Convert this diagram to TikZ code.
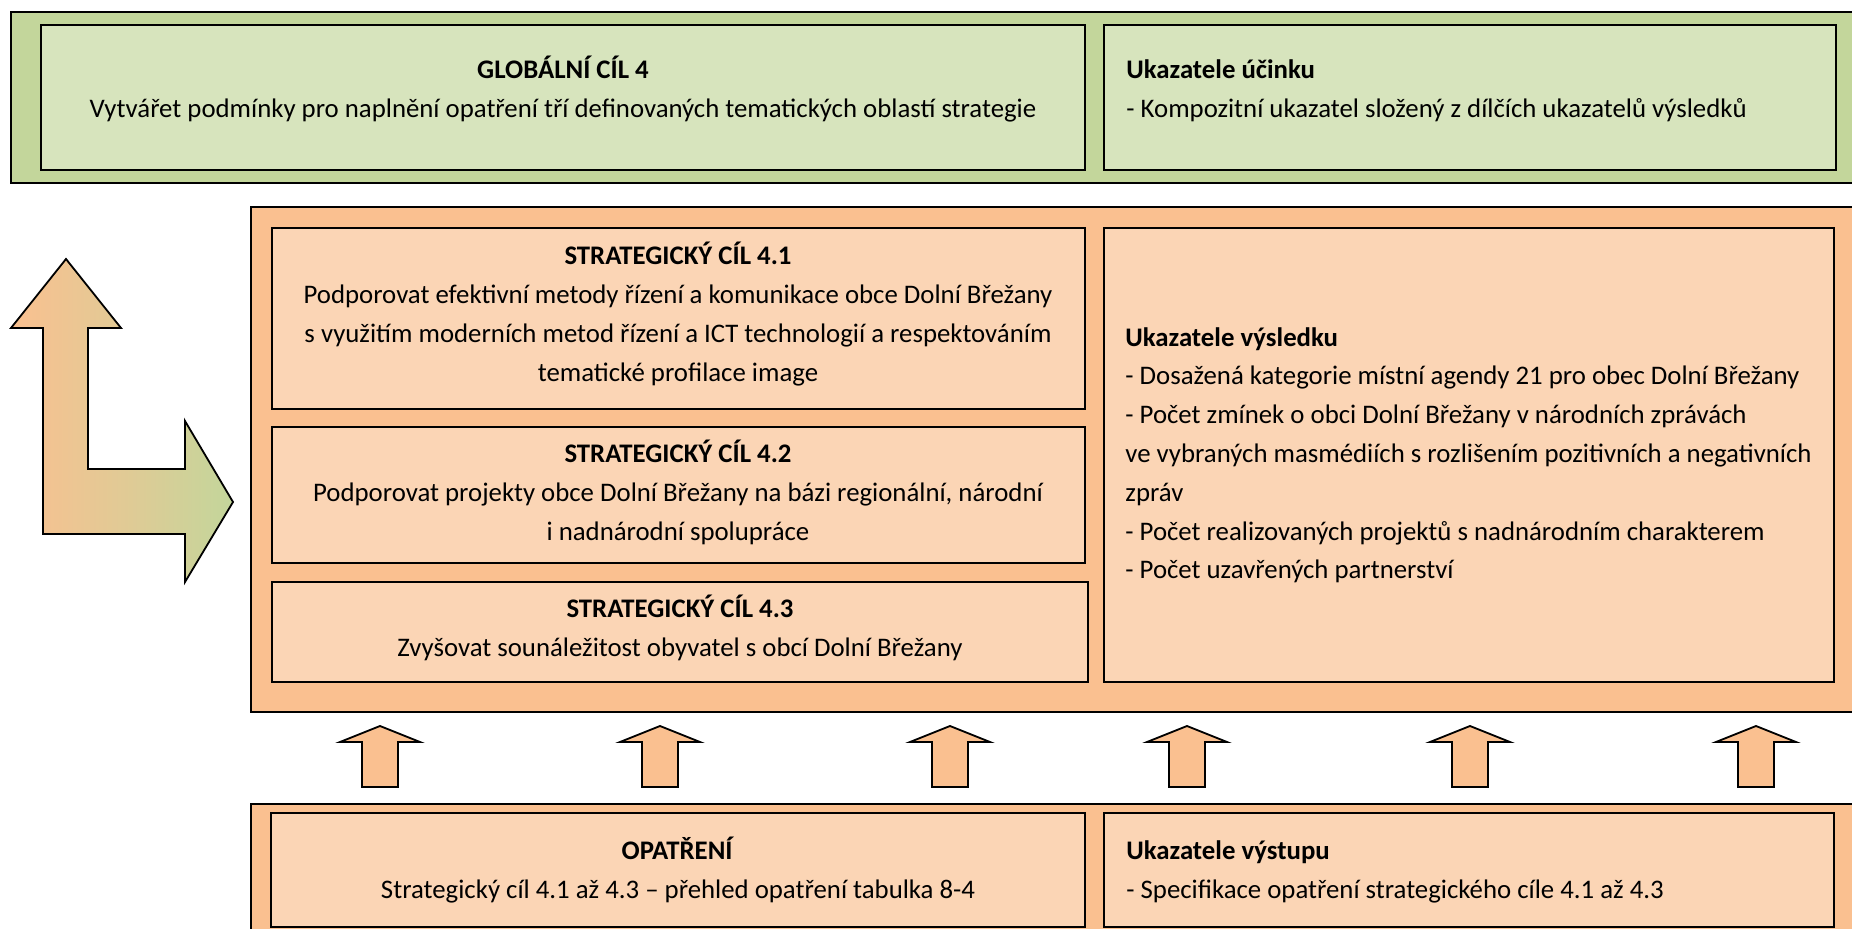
\documentclass[tikz,border=0pt]{standalone}
\usepackage{fontspec}
\setmainfont{Carlito}
\usepackage{tikz}
\usepackage{xcolor}

\definecolor{zelenaOut}{HTML}{C3D69B}
\definecolor{zelenaIn}{HTML}{D7E4BD}
\definecolor{oranzOut}{HTML}{FAC090}
\definecolor{oranzIn}{HTML}{FBD5B5}

\tikzset{
	ramec/.style={draw=black, line width=1.2pt},
	pole/.style={draw=black, line width=0.9pt},
	txt/.style={inner sep=0pt, anchor=base, align=center, font=\fontsize{13.4pt}{19.4pt}\selectfont},
	txtl/.style={txt, anchor=base west, align=left},
	sipka/.style={draw=black, line width=0.9pt, fill=oranzOut}
}

\begin{document}
\begin{tikzpicture}[x=0.5pt, y=-0.5pt]
			\useasboundingbox (0,0) rectangle (1852,929);
			\clip (0,0) rectangle (1852,929);
			\fill[white] (0,0) rectangle (1852,929);

			\draw[ramec, fill=zelenaOut] (11,12) rectangle (1880,183);
			\draw[pole, fill=zelenaIn] (41,25) rectangle (1085,170);
			\draw[pole, fill=zelenaIn] (1104,25) rectangle (1836,170);
			\node[txt] (gl) at (563,117.8) {\textbf{GLOBÁLNÍ CÍL 4}\\Vytvářet podmínky pro naplnění opatření tří definovaných tematických oblastí strategie};
			\node[txtl] (ucin) at (1126,117.8) {\textbf{Ukazatele účinku}\\- Kompozitní ukazatel složený z dílčích ukazatelů výsledků};

			\draw[ramec, fill=oranzOut] (251,207) rectangle (1880,712);
			\draw[pole, fill=oranzIn] (272,228) rectangle (1085,409);
			\draw[pole, fill=oranzIn] (272,427) rectangle (1085,563);
			\draw[pole, fill=oranzIn] (272,582) rectangle (1088,682);
			\draw[pole, fill=oranzIn] (1104,228) rectangle (1834,682);
			\node[txt] (sc1) at (678,381.4) {\textbf{STRATEGICKÝ CÍL 4.1}\\Podporovat efektivní metody řízení a komunikace obce Dolní Břežany\\s využitím moderních metod řízení a ICT technologií a respektováním\\tematické profilace image};
			\node[txt] (sc2) at (678,540.6) {\textbf{STRATEGICKÝ CÍL 4.2}\\Podporovat projekty obce Dolní Břežany na bázi regionální, národní\\i nadnárodní spolupráce};
			\node[txt] (sc3) at (680,656.8) {\textbf{STRATEGICKÝ CÍL 4.3}\\Zvyšovat sounáležitost obyvatel s obcí Dolní Břežany};
			\node[txtl] (vysl) at (1125,579) {\textbf{Ukazatele výsledku}\\- Dosažená kategorie místní agendy 21 pro obec Dolní Břežany\\- Počet zmínek o obci Dolní Břežany v národních zprávách\\ve vybraných masmédiích s rozlišením pozitivních a negativních\\zpráv\\- Počet realizovaných projektů s nadnárodním charakterem\\- Počet uzavřených partnerství};

			\draw[ramec, fill=oranzOut] (251,804) rectangle (1880,960);
			\draw[pole, fill=oranzIn] (271,813) rectangle (1085,927);
			\draw[pole, fill=oranzIn] (1104,813) rectangle (1834,927);
			\node[txt] (opat) at (678,898) {\textbf{OPATŘENÍ}\\Strategický cíl 4.1 až 4.3 – přehled opatření tabulka 8-4};
			\node[txtl] (vyst) at (1126,898) {\textbf{Ukazatele výstupu}\\- Specifikace opatření strategického cíle 4.1 až 4.3};

			\draw[line width=0.9pt, left color=oranzOut, right color=zelenaOut, middle color=oranzOut!55!zelenaOut] (66,259) -- (121,328) -- (88,328) -- (88,469) -- (185,469) -- (185,421) -- (233,502) -- (185,582) -- (185,534) -- (43,534) -- (43,328) -- (11,328) -- cycle;

			\foreach \x in {380, 660, 950, 1187, 1470, 1756}
	\draw[sipka] (\x,726) -- (\x+40,742) -- (\x+18,742) -- (\x+18,787) -- (\x-18,787) -- (\x-18,742) -- (\x-40,742) -- cycle;

		\end{tikzpicture}
\end{document}
